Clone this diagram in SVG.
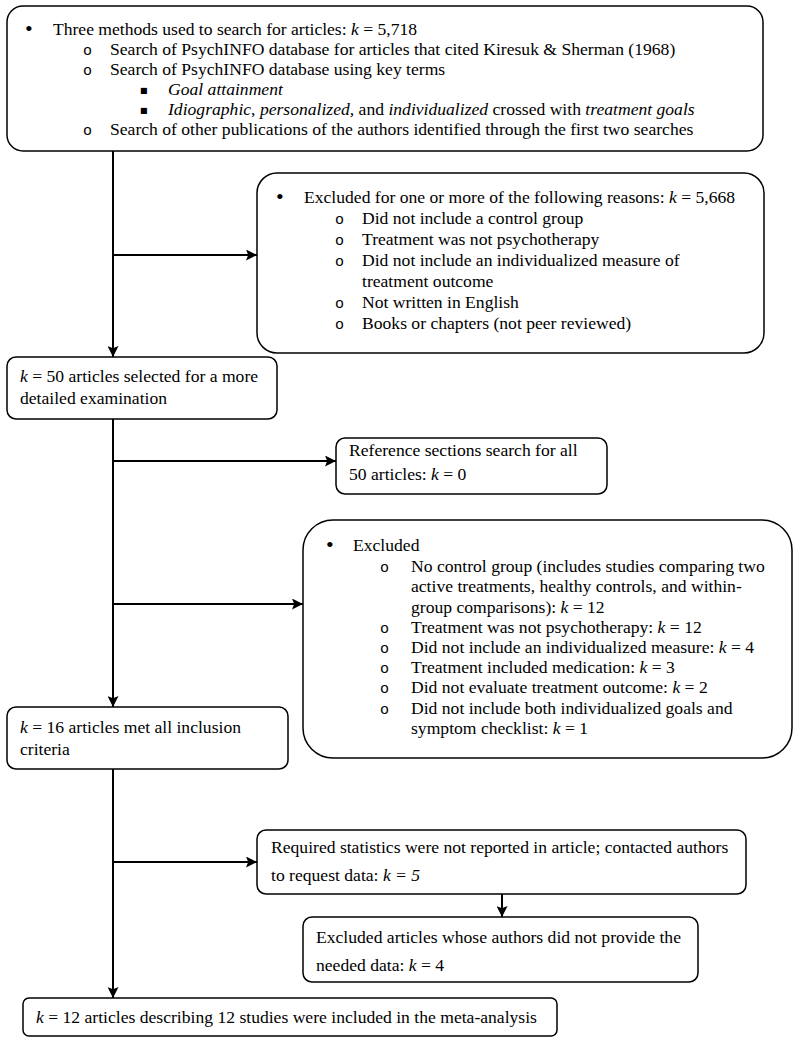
<svg xmlns="http://www.w3.org/2000/svg" width="800" height="1043" viewBox="0 0 800 1043">
<style>
.box{fill:#fff;stroke:#000;stroke-width:1.5}
.t{font-family:"Liberation Serif","Times New Roman",serif;font-size:17.6px;fill:#000}
.i{font-style:italic}
.b1{font-family:"Liberation Serif",serif;font-size:22px;fill:#000}
.b2{font-family:"Liberation Mono",monospace;font-size:15px;fill:#000}
.b3{font-family:"DejaVu Sans",sans-serif;font-size:8px;fill:#000}
.c{stroke:#000;stroke-width:2;fill:none}
</style>
<defs>
<marker id="ah" viewBox="0 0 10 10" refX="10" refY="5" markerWidth="5.5" markerHeight="5.5" markerUnits="strokeWidth" orient="auto">
<path d="M0,0 L10,5 L0,10 L2,5 z" fill="#000"/>
</marker>
</defs>
<rect width="800" height="1043" fill="#fff"/>
<g id="connectors">
<path class="c" d="M113,151 V357" marker-end="url(#ah)"/>
<path class="c" d="M113,255 H257" marker-end="url(#ah)"/>
<path class="c" d="M113,419 V707" marker-end="url(#ah)"/>
<path class="c" d="M113,461 H336" marker-end="url(#ah)"/>
<path class="c" d="M113,604 H303" marker-end="url(#ah)"/>
<path class="c" d="M113,769 V998" marker-end="url(#ah)"/>
<path class="c" d="M113,862 H257" marker-end="url(#ah)"/>
<path class="c" d="M502,894 V917" marker-end="url(#ah)"/>
</g>
<g id="search">
<rect class="box" x="7" y="6" width="756" height="145" rx="16"/>
<text class="b1" x="25" y="36">•</text>
<text class="t" x="53" y="35" textLength="364" lengthAdjust="spacing">Three methods used to search for articles: <tspan class="i">k</tspan> = 5,718</text>
<text class="b2" x="83" y="55">o</text>
<text class="t" x="110" y="55">Search of PsychINFO database for articles that cited Kiresuk &amp; Sherman (1968)</text>
<text class="b2" x="83" y="75">o</text>
<text class="t" x="110" y="75">Search of PsychINFO database using key terms</text>
<text class="b3" x="140" y="93">■</text>
<text class="t i" x="168" y="95">Goal attainment</text>
<text class="b3" x="140" y="113">■</text>
<text class="t" x="168" y="115"><tspan class="i">Idiographic</tspan>, <tspan class="i">personalized,</tspan> and  <tspan class="i">individualized</tspan> crossed with <tspan class="i">treatment goals</tspan></text>
<text class="b2" x="83" y="135">o</text>
<text class="t" x="110" y="135">Search of other publications of the authors identified through the first two searches</text>
</g>
<g id="excluded1">
<rect class="box" x="257" y="173" width="507" height="180" rx="20"/>
<text class="b1" x="276" y="204">•</text>
<text class="t" x="304" y="203">Excluded for one or more of the following reasons: <tspan class="i">k</tspan> = 5,668</text>
<text class="b2" x="335" y="224">o</text>
<text class="t" x="362" y="224">Did not include a control group</text>
<text class="b2" x="335" y="245">o</text>
<text class="t" x="362" y="245">Treatment was not psychotherapy</text>
<text class="b2" x="335" y="266">o</text>
<text class="t" x="362" y="266">Did not include an individualized measure of</text>
<text class="t" x="362" y="287">treatment outcome</text>
<text class="b2" x="335" y="308">o</text>
<text class="t" x="362" y="308">Not written in English</text>
<text class="b2" x="335" y="329">o</text>
<text class="t" x="362" y="329">Books or chapters (not peer reviewed)</text>
</g>
<g id="selected50">
<rect class="box" x="7" y="357" width="270" height="62" rx="9"/>
<text class="t" x="20" y="382"><tspan class="i">k</tspan> = 50 articles selected for a more</text>
<text class="t" x="20" y="404">detailed examination</text>
</g>
<g id="reference">
<rect class="box" x="336" y="438" width="271" height="56" rx="9"/>
<text class="t" x="349" y="456">Reference sections search for all</text>
<text class="t" x="349" y="480">50 articles: <tspan class="i">k</tspan> = 0</text>
</g>
<g id="excluded2">
<rect class="box" x="303" y="520" width="489" height="238" rx="30"/>
<text class="b1" x="326" y="552">•</text>
<text class="t" x="353" y="551">Excluded</text>
<text class="b2" x="380" y="572">o</text>
<text class="t" x="411" y="572">No control group (includes studies comparing two</text>
<text class="t" x="411" y="592">active treatments, healthy controls, and within-</text>
<text class="t" x="411" y="613">group comparisons): <tspan class="i">k</tspan> = 12</text>
<text class="b2" x="380" y="633">o</text>
<text class="t" x="411" y="633">Treatment was not psychotherapy: <tspan class="i">k</tspan> = 12</text>
<text class="b2" x="380" y="653">o</text>
<text class="t" x="411" y="653">Did not include an individualized measure: <tspan class="i">k</tspan> = 4</text>
<text class="b2" x="380" y="673">o</text>
<text class="t" x="411" y="673">Treatment included medication: <tspan class="i">k</tspan> = 3</text>
<text class="b2" x="380" y="693">o</text>
<text class="t" x="411" y="693">Did not evaluate treatment outcome: <tspan class="i">k</tspan> = 2</text>
<text class="b2" x="380" y="714">o</text>
<text class="t" x="411" y="714">Did not include both individualized goals and</text>
<text class="t" x="411" y="734">symptom checklist: <tspan class="i">k</tspan> = 1</text>
</g>
<g id="met16">
<rect class="box" x="7" y="707" width="281" height="62" rx="9"/>
<text class="t" x="20" y="733"><tspan class="i">k</tspan> = 16 articles met all inclusion</text>
<text class="t" x="20" y="755">criteria</text>
</g>
<g id="required">
<rect class="box" x="257" y="830" width="489" height="64" rx="9"/>
<text class="t" x="271" y="853">Required statistics were not reported in article; contacted authors</text>
<text class="t" x="271" y="881">to request data: <tspan class="i">k = 5</tspan></text>
</g>
<g id="excluded3">
<rect class="box" x="303" y="917" width="395" height="65" rx="9"/>
<text class="t" x="316" y="943">Excluded articles whose authors did not provide the</text>
<text class="t" x="316" y="971">needed data: <tspan class="i">k</tspan> = 4</text>
</g>
<g id="final">
<rect class="box" x="23" y="998" width="534" height="38" rx="6"/>
<text class="t" x="36" y="1023"><tspan class="i">k</tspan> = 12 articles describing 12 studies were included in the meta-analysis</text>
</g>
</svg>
